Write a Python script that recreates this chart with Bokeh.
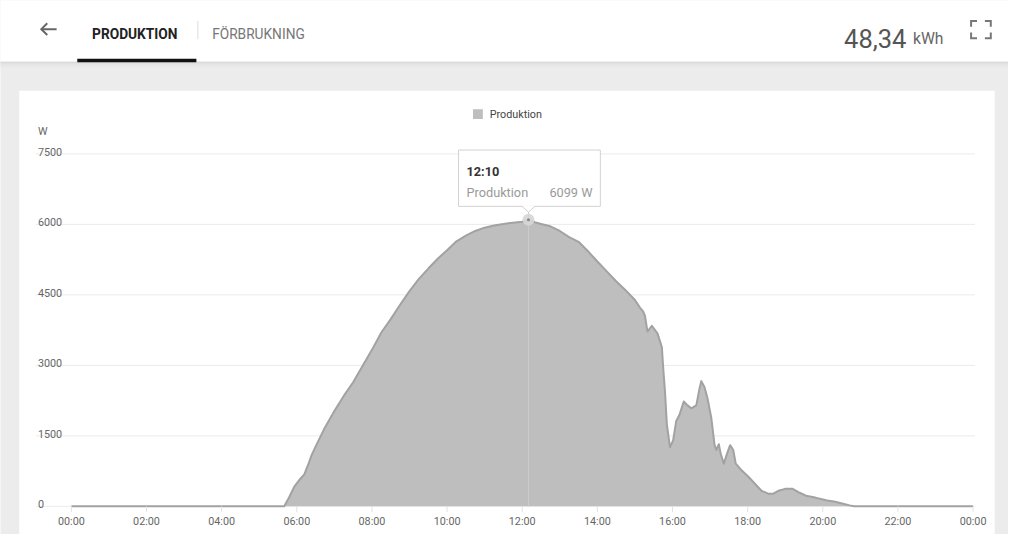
from bokeh.plotting import figure
from bokeh.embed import file_html
from bokeh.resources import INLINE
from bokeh.core.properties import value

# ---------------- data ----------------
times = ["00:00", "05:40", "05:48", "05:56", "06:04", "06:12", "06:18", "06:24", "06:30", "06:45",
         "07:00", "07:15", "07:30", "07:45", "08:00", "08:15", "08:30", "08:45", "09:00", "09:15",
         "09:30", "09:45", "10:00", "10:15", "10:30", "10:45", "11:00", "11:15", "11:30", "11:45",
         "12:00", "12:10", "12:20", "12:30", "12:45", "13:00", "13:15", "13:30", "13:45", "14:00",
         "14:15", "14:30", "14:45", "15:00", "15:08", "15:13", "15:16", "15:20", "15:27", "15:36",
         "15:43", "15:45", "15:48", "15:51", "15:56", "16:01", "16:06", "16:11", "16:18", "16:24",
         "16:30", "16:38", "16:43", "16:46", "16:51", "16:56", "17:02", "17:07", "17:10", "17:14",
         "17:17", "17:22", "17:27", "17:32", "17:37", "17:41", "17:49", "18:02", "18:12", "18:22",
         "18:33", "18:41", "18:49", "19:00", "19:12", "19:23", "19:33", "19:48", "20:07", "20:18",
         "20:31", "20:43", "20:50", "24:00"]
watts = [0, 0, 200, 420, 560, 680, 880, 1100, 1270, 1680,
         2030, 2350, 2640, 2985, 3330, 3700, 3985, 4290, 4580, 4840,
         5060, 5270, 5450, 5640, 5760, 5860, 5930, 5975, 6010, 6035,
         6055, 6099, 6045, 6010, 5960, 5860, 5730, 5630, 5430, 5210,
         5000, 4790, 4600, 4390, 4230, 4150, 4060, 3720, 3843, 3680,
         3390, 2975, 2440, 1740, 1260, 1405, 1818, 1942, 2231, 2149,
         2087, 2149, 2500, 2665, 2541, 2293, 1880, 1322, 1198, 1322,
         1116, 909, 1116, 1302, 1198, 909, 785, 620, 475, 331,
         269, 269, 331, 372, 372, 289, 227, 186, 124, 103,
         62, 21, 0, 0]
assert len(times) == len(watts)

x_tick_hours = [0, 2, 4, 6, 8, 10, 12, 14, 16, 18, 20, 22, 24]
x_tick_labels = ["00:00", "02:00", "04:00", "06:00", "08:00", "10:00", "12:00",
                 "14:00", "16:00", "18:00", "20:00", "22:00", "00:00"]
y_ticks = [0, 1500, 3000, 4500, 6000, 7500]
y_tick_labels = ["0", "1500", "3000", "4500", "6000", "7500"]
series_name = "Produktion"
unit = "W"
hover_time = "12:10"
total_energy = "48,34"
energy_unit = "kWh"
tab_active = "PRODUKTION"
tab_other = "FÖRBRUKNING"


def to_hours(s):
    h, m = s.split(":")
    return int(h) + int(m) / 60.0


hours = [to_hours(t) for t in times]

# ---------------- layout (reference pixels, 1024x550 drawn into 1008x534) ----------------
REF_W, REF_H = 1024, 550
W_PX, H_PX = 1008, 534
FS = 0.98  # font scale
X0_PX, X24_PX = 72.0, 988.0
PXH = (X24_PX - X0_PX) / 24.0
Y0_PX, YTOP_PX = 521.0, 158.0
PXW = (Y0_PX - YTOP_PX) / 7500.0


def X(px):
    return (px - X0_PX) / PXH


def Y(py):
    return (Y0_PX - py) / PXW


def XP(h):
    return X0_PX + h * PXH


def fs(size):
    return f"{size * FS:.2f}px"


FONT = value("Roboto")

p = figure(width=W_PX, height=H_PX,
           x_range=(X(0), X(REF_W)),
           y_range=(Y(REF_H), Y(0)),
           x_axis_location=None, y_axis_location=None,
           min_border=0, toolbar_location=None, output_backend="svg",
           background_fill_color="#ececec", border_fill_color="#ececec")
p.outline_line_color = None
p.grid.visible = False


def box(l, r, t, b, color, line=None):
    p.quad(left=[X(l)], right=[X(r)], top=[Y(t)], bottom=[Y(b)],
           fill_color=color, line_color=line)


def txt(px, py, s, size, color, align="left", baseline="alphabetic", style="normal"):
    p.text(x=[X(px)], y=[Y(py)], text=[s], text_font=FONT, text_font_size=fs(size),
           text_color=color, text_align=align, text_baseline=baseline, text_font_style=style)


def seg(pts, color, width=2):
    p.line(x=[X(a) for a, b in pts], y=[Y(b) for a, b in pts], line_color=color,
           line_width=width, line_cap="butt", line_join="miter")


# header
box(-10, 1040, -10, 63, "#ffffff")
shadow = ["#d4d4d4", "#dadada", "#dfdfdf", "#e3e3e3", "#e6e6e6", "#e9e9e9", "#ebebeb"]
for i, c in enumerate(shadow):
    box(-10, 1040, 63 + i, 64 + i, c)
box(78, 199, 60, 63.5, "#111111")
seg([(41.5, 29.5), (57, 29.5)], "#666666")
seg([(47.5, 23.5), (41.5, 29.5), (47.5, 35.5)], "#666666")
txt(93, 34.5, tab_active, 14, "#222222", style="bold")
seg([(200.5, 21), (200.5, 40)], "#dddddd", 1)
txt(215, 34.5, tab_other, 14, "#777777")
txt(857, 39, total_energy, 26, "#555555")
txt(927, 39, energy_unit, 16, "#666666")
for cx, cy, dx, dy in [(986, 21, 1, 1), (1006, 21, -1, 1), (986, 39, 1, -1), (1006, 39, -1, -1)]:
    seg([(cx + 6 * dx, cy), (cx, cy), (cx, cy + 6 * dy)], "#777777")

# card
box(19, 1010, 93, 600, "#ffffff")

# grid lines
p.segment(x0=[X(36)] * len(y_ticks), x1=[X(990)] * len(y_ticks), y0=y_ticks, y1=y_ticks,
          line_color="#ebebeb", line_width=1)
# y tick labels and unit
p.text(x=[X(38)] * len(y_ticks), y=y_ticks, text=y_tick_labels, text_font=FONT,
       text_font_size=fs(11), text_color="#666666", text_align="left",
       text_baseline="alphabetic", y_offset=-2)
p.text(x=[X(38)], y=[y_ticks[-1]], text=[unit], text_font=FONT, text_font_size=fs(11),
       text_color="#666666", text_align="left", text_baseline="alphabetic", y_offset=-22)

# area series
p.varea(x=hours, y1=[0] * len(hours), y2=watts, fill_color="#bebebe")
p.line(x=hours, y=watts, line_color="#a2a2a2", line_width=2, line_join="round")

# x ticks and labels
p.segment(x0=x_tick_hours, x1=x_tick_hours, y0=[0] * len(x_tick_hours), y1=[Y(527)] * len(x_tick_hours),
          line_color="#e2e2e2", line_width=1)
p.text(x=x_tick_hours, y=[0] * len(x_tick_hours), text=x_tick_labels, text_font=FONT,
       text_font_size=fs(11), text_color="#666666", text_align="center",
       text_baseline="middle", y_offset=15)

# legend
box(480, 490, 112, 122, "#bebebe")
txt(497, 117, series_name, 11, "#444444", baseline="middle")

# hover crosshair + tooltip
hi = times.index(hover_time)
hh, hv = hours[hi], watts[hi]
hx = XP(hh)
p.segment(x0=[hh], x1=[hh], y0=[0], y1=[Y(212)], line_color="#cccccc", line_width=1)
p.scatter(x=[hh], y=[hv], size=12, fill_color="#d6d6d6", fill_alpha=0.9, line_color=None)
p.scatter(x=[hh], y=[hv], size=3, fill_color="#888888", line_color=None)
box(hx - 71, hx + 73, 154, 212, "#ffffff", "#d2d2d2")
p.patch(x=[X(hx - 6.5), X(hx + 6.5), X(hx)], y=[Y(211.5), Y(211.5), Y(218)],
        fill_color="#ffffff", line_color=None)
seg([(hx - 6.5, 212), (hx, 218), (hx + 6.5, 212)], "#d2d2d2", 1)
txt(hx - 63, 176, hover_time, 13, "#333333", style="bold")
txt(hx - 63, 198, series_name, 13, "#9a9a9a")
txt(hx + 65, 198, f"{hv} {unit}", 13, "#9a9a9a", align="right")

open("out.html", "w").write(file_html(p, INLINE))
